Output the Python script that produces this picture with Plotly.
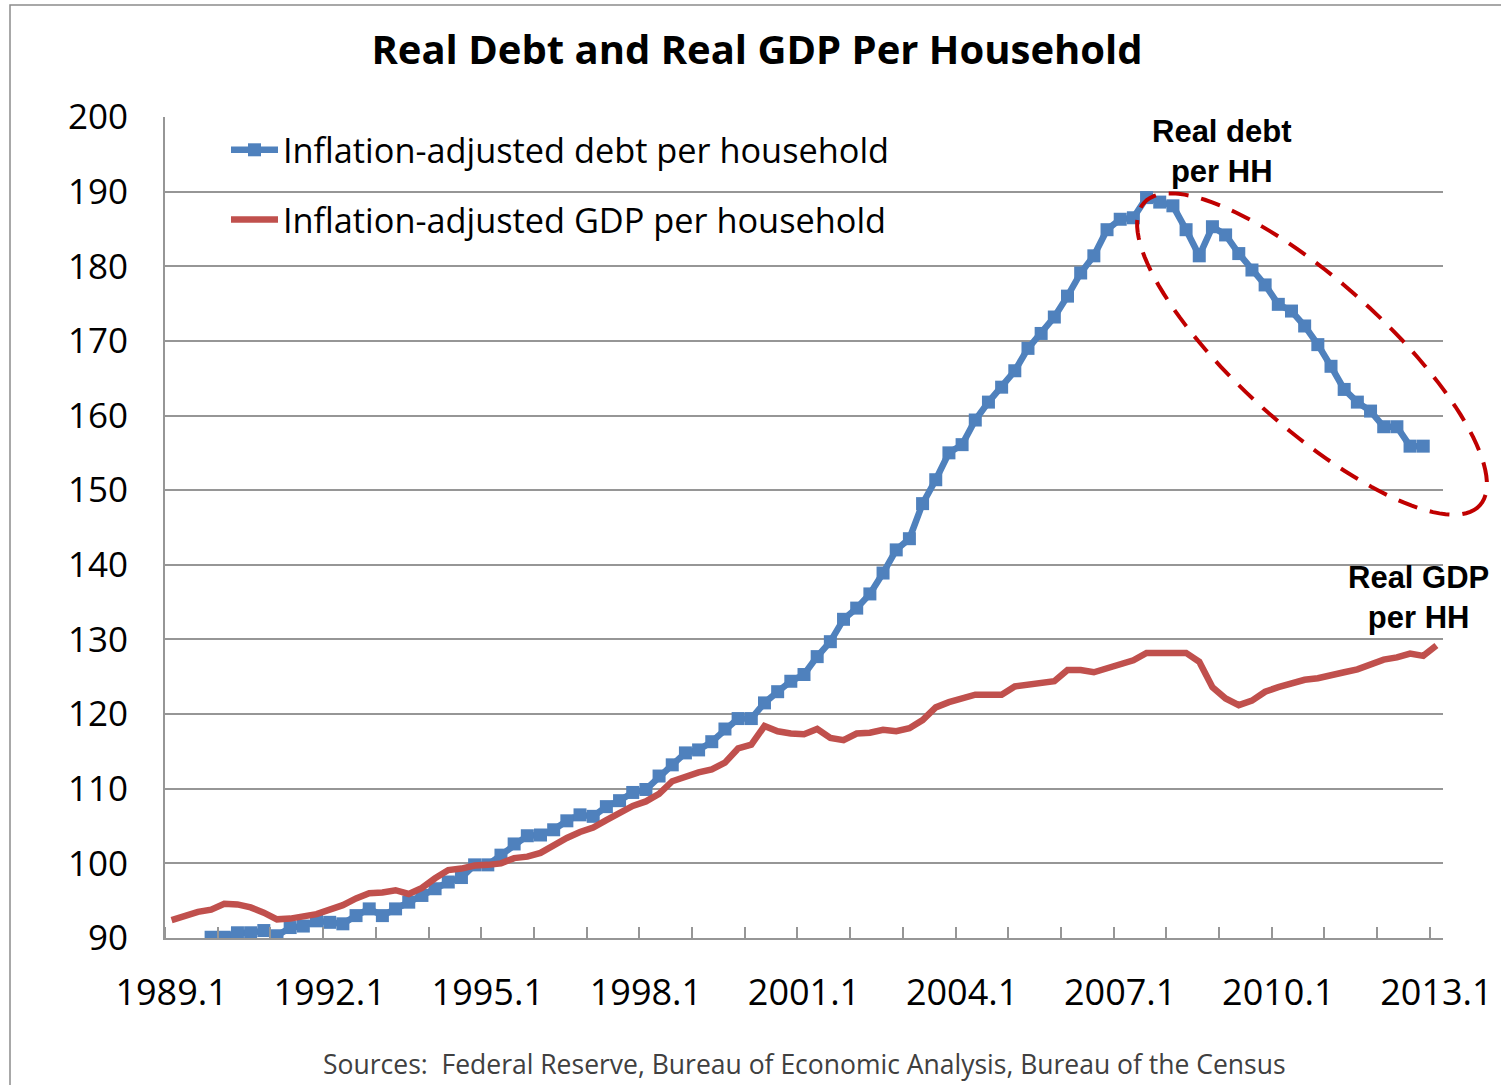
import numpy as np
import plotly.graph_objects as go

# Quarterly categories, 1989.1 .. 2013.1
quarters = [f"{y}.{q}" for y in range(1989, 2014) for q in range(1, 5)][:97]
tick_labels = ["1989.1", "1992.1", "1995.1", "1998.1", "2001.1",
               "2004.1", "2007.1", "2010.1", "2013.1"]

# Inflation-adjusted debt per household (index), 1989.4 .. 2012.4
debt_per_hh = [
    None, None, None,
    90.1, 90.1, 90.7, 90.7, 91.0, 90.3, 91.4, 91.6, 92.3,
    92.1, 91.9, 93.0, 93.9, 93.0, 93.9, 94.8, 95.7, 96.6,
    97.5, 98.1, 99.8, 99.8, 101.1, 102.6, 103.7, 103.8, 104.5,
    105.7, 106.5, 106.3, 107.6, 108.4, 109.5, 109.9, 111.7, 113.2,
    114.8, 115.2, 116.3, 118.0, 119.4, 119.4, 121.5, 123.0, 124.4,
    125.3, 127.7, 129.7, 132.7, 134.2, 136.1, 138.9, 142.0, 143.5,
    148.2, 151.4, 155.0, 156.1, 159.4, 161.8, 163.8, 166.0, 169.0,
    171.0, 173.2, 176.0, 179.1, 181.4, 184.9, 186.3, 186.5, 189.2,
    188.6, 188.1, 184.9, 181.4, 185.3, 184.2, 181.7, 179.5, 177.5,
    174.9, 174.0, 172.0, 169.5, 166.6, 163.5, 161.8, 160.6, 158.5,
    158.5, 155.9, 155.9,
    None,
]

# Inflation-adjusted GDP per household (index), 1989.1 .. 2013.1
gdp_per_hh = [
    92.4, 93.0, 93.5, 93.8, 94.6, 94.5, 94.1, 93.4, 92.5, 92.6,
    92.9, 93.2, 93.8, 94.4, 95.3, 96.0, 96.1, 96.4, 95.9, 96.7,
    98.0, 99.1, 99.3, 99.7, 99.8, 100.0, 100.7, 100.9, 101.4, 102.5,
    103.4, 104.2, 104.8, 105.8, 106.8, 107.7, 108.3, 109.3, 111.0, 111.7,
    112.2, 112.6, 113.5, 115.4, 115.9, 118.4, 117.7, 117.4, 117.3, 118.0,
    116.8, 116.5, 117.4, 117.5, 117.9, 117.7, 118.1, 119.2, 120.9, 121.6,
    122.2, 122.6, 122.6, 122.6, 123.7, 124.0, 124.3, 124.4, 125.9, 125.9,
    125.6, 126.1, 126.8, 127.2, 128.2, 128.2, 128.2, 128.2, 127.0, 123.6,
    122.1, 121.2, 121.8, 123.0, 123.6, 124.1, 124.6, 124.8, 125.3, 125.6,
    126.0, 126.7, 127.3, 127.6, 128.1, 127.8, 129.2,
]

W, H = 1501, 1085
L, R, T, B = 165, 58, 117, 147
PW, PH = W - L - R, H - T - B

def px_to_paper(px, py):
    return (px - L) / PW, (H - B - py) / PH

FONT = "Open Sans"
BLUE = "#4F81BD"
REDL = "#C0504D"
GRID = "#969696"

xs = list(range(len(quarters)))
tickvals = [quarters.index(t) for t in tick_labels]

fig = go.Figure()
fig.add_trace(go.Scatter(
    x=xs, y=debt_per_hh, mode="lines+markers",
    name="Inflation-adjusted debt per household",
    line=dict(color=BLUE, width=6.5),
    marker=dict(symbol="square", size=13, color=BLUE),
    legendgroup="debt", connectgaps=False,
))
fig.add_trace(go.Scatter(
    x=xs, y=gdp_per_hh, mode="lines",
    name="Inflation-adjusted GDP per household",
    line=dict(color=REDL, width=6.5),
    legendgroup="gdp",
))

# Dashed ellipse around the post-2007 debt decline
cx, cy, a, b = 1312, 354, 226, 73
th = np.deg2rad(42)
t = np.linspace(0, 2 * np.pi, 121)
ex = cx + a * np.cos(t) * np.cos(th) - b * np.sin(t) * np.sin(th)
ey = cy + a * np.cos(t) * np.sin(th) + b * np.sin(t) * np.cos(th)
pts = [px_to_paper(x, y) for x, y in zip(ex, ey)]
path = "M " + " L ".join(f"{x:.5f},{y:.5f}" for x, y in pts) + " Z"

bx0, by1 = px_to_paper(10, 5)
shapes = [
    dict(type="path", path=path, xref="paper", yref="paper",
         line=dict(color="#C00000", width=4, dash="20px,13px")),
    dict(type="rect", xref="paper", yref="paper",
         x0=bx0, x1=1.3, y0=-0.4, y1=by1,
         line=dict(color="#8C8C8C", width=1.5), layer="below"),
]

ax1, ay1 = px_to_paper(1222, 151)
ax2, ay2 = px_to_paper(1418, 597)
sx, sy = px_to_paper(804, 1064)
annotations = [
    dict(text="<b>Real debt<br>per HH</b>", x=ax1, y=ay1, xref="paper", yref="paper",
         showarrow=False, xanchor="center", yanchor="middle",
         font=dict(family="Liberation Sans", size=31, color="#000000")),
    dict(text="<b>Real GDP<br>per HH</b>", x=ax2, y=ay2, xref="paper", yref="paper",
         showarrow=False, xanchor="center", yanchor="middle",
         font=dict(family="Liberation Sans", size=31, color="#000000")),
    dict(text="Sources:  Federal Reserve, Bureau of Economic Analysis, Bureau of the Census",
         x=sx, y=sy, xref="paper", yref="paper", showarrow=False,
         xanchor="center", yanchor="middle",
         font=dict(family=FONT, size=26.5, color="#404040")),
]

lx, ly = px_to_paper(226, 121)
fig.update_layout(
    width=W, height=H, autosize=False,
    margin=dict(l=L, r=R, t=T, b=B),
    paper_bgcolor="white", plot_bgcolor="white",
    title=dict(text="<b>Real Debt and Real GDP Per Household</b>",
               x=757 / W, xref="container", xanchor="center",
               y=1 - 50 / H, yref="container", yanchor="middle",
               font=dict(family=FONT, size=40, color="#000000")),
    font=dict(family=FONT, size=35, color="#000000"),
    showlegend=True,
    legend=dict(x=lx, y=ly, xanchor="left", yanchor="top",
                bgcolor="rgba(0,0,0,0)", borderwidth=0,
                font=dict(family=FONT, size=34.3, color="#000000"),
                traceorder="grouped", tracegroupgap=22, itemwidth=47),
    shapes=shapes,
    annotations=annotations,
)
fig.update_xaxes(
    range=[-0.5, len(quarters) - 0.5], automargin=False,
    tickmode="array", tickvals=tickvals, ticktext=tick_labels,
    ticks="", showgrid=False, zeroline=False,
    showline=True, linecolor=GRID, linewidth=2,
    ticklabelstandoff=22,
    tickfont=dict(family=FONT, size=36, color="#000000"),
    minor=dict(ticks="inside", ticklen=11, tickwidth=1.5, tickcolor=GRID,
               tickmode="linear", tick0=-0.5, dtick=4, showgrid=False),
)
fig.update_yaxes(
    range=[90, 200], tickmode="linear", tick0=90, dtick=10, automargin=False,
    showgrid=True, gridcolor=GRID, gridwidth=1.5, zeroline=False,
    showline=True, linecolor=GRID, linewidth=2,
    ticks="", ticklabelstandoff=28,
    tickfont=dict(family=FONT, size=35, color="#000000"),
)

fig.write_html("out.html")
